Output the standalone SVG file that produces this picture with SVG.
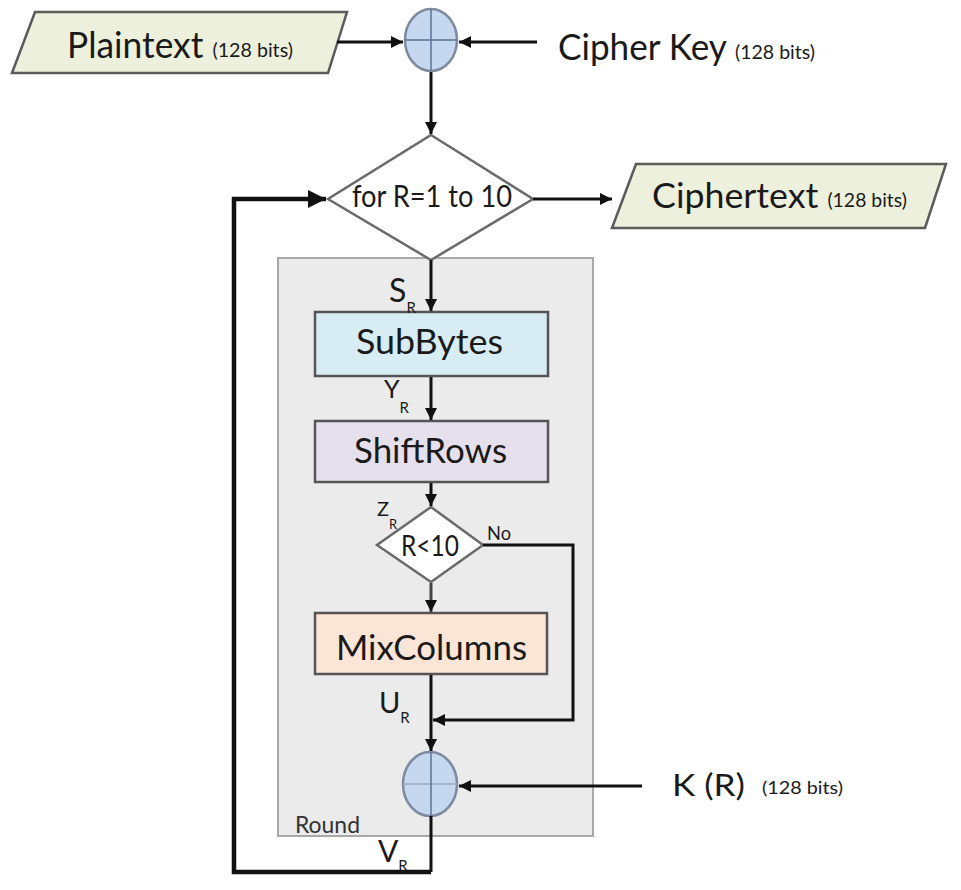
<svg xmlns="http://www.w3.org/2000/svg" width="961" height="890" viewBox="0 0 961 890">
<style>
text{font-family:Lato,"Open Sans","Liberation Sans",sans-serif;fill:#1a1a1a}
.sm{font-size:17px}
.box{font-size:35px}
.sub{font-size:15px}
.io{fill:#EDF0DC;stroke:#5a5a5a;stroke-width:2.5}
.xor{fill:#C6D8EF;stroke:#7d8aa0;stroke-width:2.5}
.cross{stroke:#5b7396;stroke-width:1.5}
.c{fill:none;stroke:#111;stroke-width:3}
.thick{fill:none;stroke:#111;stroke-width:4.5}
.dia{fill:#fff;stroke:#6a6a6a;stroke-width:2.5}
</style>
<defs>
<marker id="ah" viewBox="0 0 10 10" refX="10" refY="5" markerWidth="4" markerHeight="4" orient="auto" markerUnits="strokeWidth">
<path d="M0,0 L10,5 L0,10 z" fill="#111"/>
</marker>
</defs>
<rect width="961" height="890" fill="#fff"/>

<g id="round">
<rect x="278" y="258" width="315" height="578" fill="#EBEBEB" stroke="#a8a8a8" stroke-width="2"/>
<text x="295" y="833" style="font-size:23px;fill:#333" textLength="65" lengthAdjust="spacingAndGlyphs">Round</text>
</g>

<g id="plaintext">
<polygon class="io" points="35,12 347,12 328,73 12,73"/>
<text x="67" y="58" style="font-size:36px" textLength="226" lengthAdjust="spacingAndGlyphs">Plaintext <tspan style="font-size:20px" dy="-1">(128 bits)</tspan></text>
</g>

<g id="xor1">
<ellipse class="xor" cx="431" cy="40" rx="26" ry="31"/>
<line class="cross" x1="431" y1="9" x2="431" y2="71"/>
<line class="cross" x1="405" y1="40" x2="457" y2="40"/>
</g>

<g id="cipherkey">
<text x="558" y="60" style="font-size:36px" textLength="257" lengthAdjust="spacingAndGlyphs">Cipher Key <tspan style="font-size:20px" dy="-1">(128 bits)</tspan></text>
</g>

<g id="loop">
<polygon class="dia" points="431,135 533,199 431,260 328,199"/>
<text x="352" y="207" style="font-size:30px" textLength="160" lengthAdjust="spacingAndGlyphs">for R=1 to 10</text>
</g>

<g id="ciphertext">
<polygon class="io" points="636,164 946,164 925,228 612,228"/>
<text x="652" y="208" style="font-size:35px" textLength="255" lengthAdjust="spacingAndGlyphs">Ciphertext <tspan style="font-size:19px" dy="-1">(128 bits)</tspan></text>
</g>

<g id="subbytes">
<rect x="315" y="312" width="233" height="64" fill="#D8EDF3" stroke="#555" stroke-width="2.5"/>
<text x="356" y="354" class="box" textLength="147" lengthAdjust="spacingAndGlyphs">SubBytes</text>
</g>

<g id="shiftrows">
<rect x="315" y="421" width="233" height="61" fill="#E6E0EC" stroke="#555" stroke-width="2.5"/>
<text x="354" y="463" class="box" textLength="153" lengthAdjust="spacingAndGlyphs">ShiftRows</text>
</g>

<g id="check">
<polygon class="dia" points="431,507 483,545 431,582 377,545"/>
<text x="401" y="556" style="font-size:28px" textLength="58" lengthAdjust="spacingAndGlyphs">R&lt;10</text>
<text x="487" y="540" style="font-size:19px" textLength="24" lengthAdjust="spacingAndGlyphs">No</text>
</g>

<g id="mixcolumns">
<rect x="315" y="613" width="232" height="61" fill="#FBE5D6" stroke="#555" stroke-width="2.5"/>
<text x="336" y="660" class="box" textLength="191" lengthAdjust="spacingAndGlyphs">MixColumns</text>
</g>

<g id="xor2">
<ellipse class="xor" cx="430" cy="784" rx="27" ry="32"/>
<line class="cross" x1="403" y1="784" x2="457" y2="784" style="stroke:#98a9c2"/>
</g>

<g id="roundkey">
<text x="672" y="796" style="font-size:31px" textLength="73" lengthAdjust="spacingAndGlyphs">K (R)</text>
<text x="762" y="794" class="sm" textLength="81" lengthAdjust="spacingAndGlyphs">(128 bits)</text>
</g>

<g id="labels">
<text x="389" y="302" style="font-size:32px">S<tspan class="sub" dy="11">R</tspan></text>
<text x="384" y="398" style="font-size:25px">Y<tspan class="sub" dy="15">R</tspan></text>
<text x="377" y="516" style="font-size:20px">Z<tspan style="font-size:13px" dy="13">R</tspan></text>
<text x="379" y="713" style="font-size:29px">U<tspan class="sub" dy="10">R</tspan></text>
<text x="378" y="862" style="font-size:30px">V<tspan class="sub" dy="9">R</tspan></text>
</g>

<g id="connectors">
<line class="c" x1="337" y1="42" x2="403" y2="42" marker-end="url(#ah)"/>
<line class="c" x1="537" y1="42" x2="459" y2="42" marker-end="url(#ah)"/>
<line class="c" x1="431" y1="72" x2="431" y2="134" marker-end="url(#ah)"/>
<line class="c" x1="533" y1="199" x2="612" y2="199" marker-end="url(#ah)"/>
<line class="c" x1="431" y1="260" x2="431" y2="311" marker-end="url(#ah)"/>
<line class="c" x1="431" y1="377" x2="431" y2="420" marker-end="url(#ah)"/>
<line class="c" x1="431" y1="483" x2="431" y2="506" marker-end="url(#ah)"/>
<line class="c" x1="431" y1="583" x2="431" y2="612" marker-end="url(#ah)" style="stroke:#444"/>
<line class="c" x1="431" y1="675" x2="431" y2="751" marker-end="url(#ah)"/>
<polyline class="c" points="483,545 573,545 573,720 433,720" marker-end="url(#ah)"/>
<line class="c" x1="642" y1="786" x2="459" y2="786" marker-end="url(#ah)"/>
<polyline class="c" points="431,816 431,872"/>
<polyline class="thick" points="431,872 234,872 234,199 326,199" marker-end="url(#ah)"/>
<line class="c" x1="431" y1="752" x2="431" y2="816" style="stroke:#5b7396;stroke-width:1.5"/>
</g>
</svg>
